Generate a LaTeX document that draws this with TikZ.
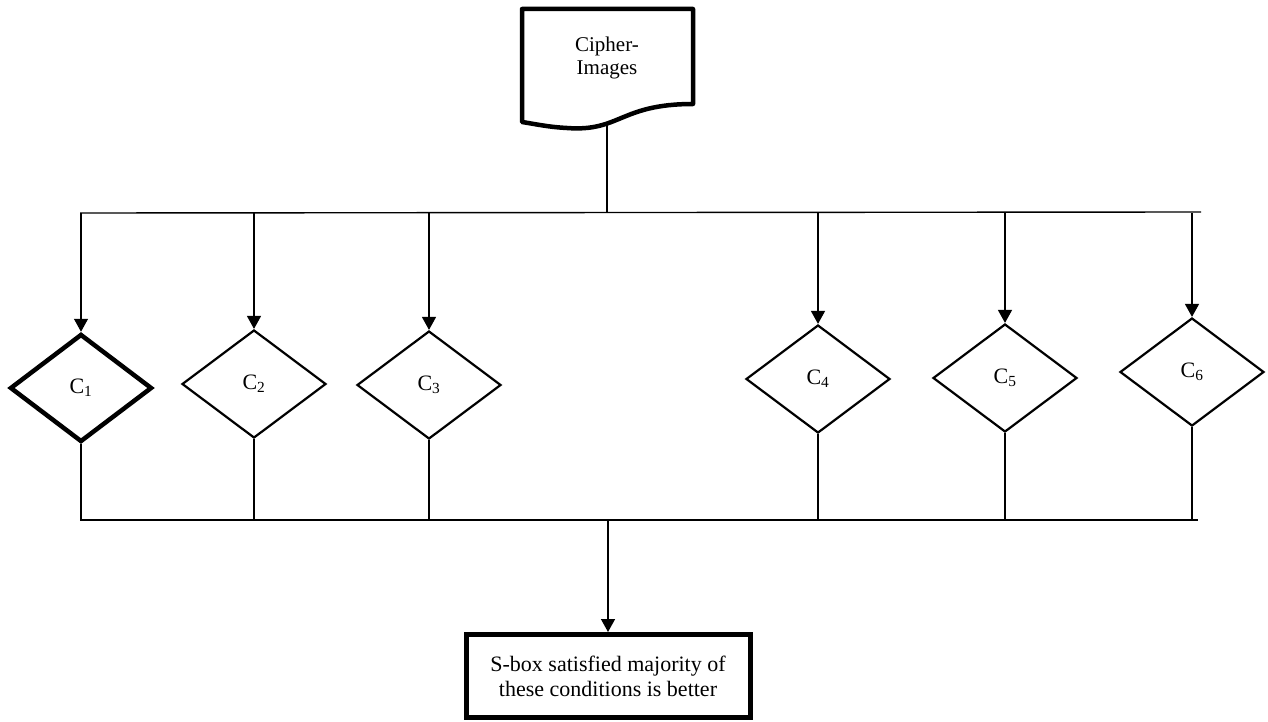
\documentclass[tikz,border=0pt]{standalone}
\usepackage{fontspec}
\setmainfont{Liberation Serif}
\usetikzlibrary{shapes.geometric,arrows.meta}

\begin{document}
\begin{tikzpicture}[x=1pt, y=-1pt,
  cond/.style={diamond, draw, line width=2.2pt, minimum width=144pt, minimum height=108pt, inner sep=0pt, font=\fontsize{22}{24}\selectfont},
  wire/.style={line width=1.4pt},
  arr/.style={line width=1.4pt, -{Triangle[length=13pt,width=14pt]}}]
\useasboundingbox (0,0) rectangle (1268,722);

% input document
\node[font=\fontsize{21}{23}\selectfont, align=center] (cipher) at (607,58) {Cipher-\\Images};
\draw[line width=4.5pt, line join=round] (522,9) -- (693,9) -- (693,104) .. controls (620,104) and (620,132) .. (567,128) .. controls (548,127) and (535,124) .. (522,122) -- cycle;
\coordinate (cbot) at (607,124);

% conditions
\node[cond, line width=4.5pt, minimum width=142pt] (c1) at (81,388) {C\textsubscript{1}};
\node[cond] (c2) at (254,384) {C\textsubscript{2}};
\node[cond] (c3) at (429,385) {C\textsubscript{3}};
\node[cond] (c4) at (818,379) {C\textsubscript{4}};
\node[cond] (c5) at (1005,378) {C\textsubscript{5}};
\node[cond] (c6) at (1192,372) {C\textsubscript{6}};

% result
\node[draw, line width=5pt, minimum width=284pt, minimum height=83pt, inner sep=2pt, align=center, font=\fontsize{22}{25}\selectfont] (result) at (608,676) {S-box satisfied majority of\\these conditions is better};

% split
\coordinate (tl) at (80,213);
\coordinate (tr) at (1201,212);
\draw[wire] (tl) -- (tr);
\draw[wire] (cbot) -- (cbot |- tl);
\draw[arr] (c1.north |- tl) -- (c1.north);
\draw[arr] (c2.north |- tl) -- (c2.north);
\draw[arr] (c3.north |- tl) -- (c3.north);
\draw[arr] (c4.north |- tl) -- (c4.north);
\draw[arr] (c5.north |- tl) -- (c5.north);
\draw[arr] (c6.north |- tl) -- (c6.north);

% join
\coordinate (bl) at (80,520);
\coordinate (br) at (1198,520);
\draw[wire] (bl) -- (br);
\draw[wire] (c1.south) -- (c1.south |- bl);
\draw[wire] (c2.south) -- (c2.south |- bl);
\draw[wire] (c3.south) -- (c3.south |- bl);
\draw[wire] (c4.south) -- (c4.south |- bl);
\draw[wire] (c5.south) -- (c5.south |- bl);
\draw[wire] (c6.south) -- (c6.south |- bl);
\draw[arr] (result.north |- bl) -- (result.north);
\end{tikzpicture}
\end{document}
